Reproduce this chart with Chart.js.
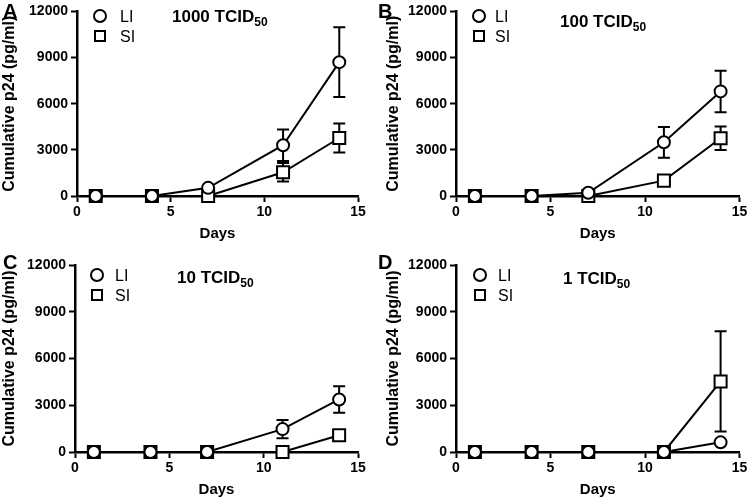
<!DOCTYPE html>
<html>
<head>
<meta charset="utf-8">
<script src="https://cdn.jsdelivr.net/npm/chart.js@4/dist/chart.umd.min.js"></script>
<style>
  html, body { margin: 0; padding: 0; background: #fff; }
  body { width: 750px; height: 502px; position: relative; overflow: hidden;
         font-family: "Liberation Sans", Arial, sans-serif; color: #000; }
  .panel { position: absolute; width: 375px; height: 251px; }
  .panel canvas { position: absolute; left: 0; top: 0; }
  .txt { position: absolute; font-weight: bold; line-height: 1; white-space: nowrap; }
  .letter { font-size: 20px; }
  .title { font-size: 17px; }
  .title sub { font-size: 12px; vertical-align: -4px; line-height: 1; }
  .leg { font-size: 16px; font-weight: normal; }
  .mk { position: absolute; box-sizing: border-box; border: 2px solid #000; background: #fff; }
  .mk.circle { width: 14px; height: 14px; border-radius: 50%; }
  .mk.square { width: 12px; height: 12px; }
</style>
</head>
<body>
<script>
  /* ─── DATA ─────────────────────────────────────────────── */
  const days = [1, 4, 7, 11, 14];
  const yTicks = [0, 3000, 6000, 9000, 12000];
  const xTicks = [0, 5, 10, 15];
  const seriesNames = ['LI', 'SI'];
  const panelLetters = ['A', 'B', 'C', 'D'];
  const doses = ['1000', '100', '10', '1'];

  const liA    = [0, 0, 530, 3300, 8700];
  const liAErr = [0, 0, 0, 1030, 2270];
  const siA    = [0, 0, 0, 1540, 3770];
  const siAErr = [0, 0, 0, 600, 950];

  const liB    = [0, 0, 210, 3490, 6800];
  const liBErr = [0, 0, 0, 1000, 1350];
  const siB    = [0, 0, 0, 1000, 3750];
  const siBErr = [0, 0, 0, 0, 760];

  const liC    = [0, 0, 0, 1470, 3370];
  const liCErr = [0, 0, 0, 580, 850];
  const siC    = [0, 0, 0, 0, 1070];
  const siCErr = [0, 0, 0, 0, 0];

  const liD    = [0, 0, 0, 0, 620];
  const liDErr = [0, 0, 0, 0, 0];
  const siD    = [0, 0, 0, 0, 4530];
  const siDErr = [0, 0, 0, 0, 3220];

  const liAll  = [liA, liB, liC, liD];
  const liErrs = [liAErr, liBErr, liCErr, liDErr];
  const siAll  = [siA, siB, siC, siD];
  const siErrs = [siAErr, siBErr, siCErr, siDErr];

  /* ─── LAYOUT (panel-relative pixels) ───────────────────── */
  const layouts = [
    { x: 0,   y: 0,   left: 77, right: 358, top: 7,  bottom: 196, yTitlePad: 0, xTitlePad: 8,
      titleX: 172, titleTop: 8,  legX: 100, legY: [16, 36], legTextX: 120 },
    { x: 375, y: 0,   left: 81, right: 366, top: 7,  bottom: 196, yTitlePad: 9, xTitlePad: 8,
      titleX: 185, titleTop: 13, legX: 104, legY: [16, 36], legTextX: 120 },
    { x: 0,   y: 251, left: 75, right: 358, top: 14, bottom: 201, yTitlePad: 0, xTitlePad: 3,
      titleX: 177, titleTop: 18, legX: 97,  legY: [24, 44], legTextX: 115 },
    { x: 375, y: 251, left: 81, right: 366, top: 14, bottom: 201, yTitlePad: 9, xTitlePad: 3,
      titleX: 188, titleTop: 19, legX: 105, legY: [24, 44], legTextX: 123 }
  ];

  const W = 375, H = 251;
  const FONT = "'Liberation Sans', Arial, sans-serif";

  /* ─── ERROR BARS ───────────────────────────────────────── */
  const errorBars = {
    id: 'errorBars',
    beforeDatasetsDraw(chart) {
      const { ctx, scales: { x, y } } = chart;
      ctx.save();
      ctx.strokeStyle = '#000';
      ctx.lineWidth = 2;
      chart.data.datasets.forEach(ds => {
        ds.data.forEach((pt, i) => {
          const e = ds.errors[i];
          if (!e) return;
          const px = x.getPixelForValue(pt.x);
          const top = y.getPixelForValue(pt.y + e);
          const bot = y.getPixelForValue(Math.max(0, pt.y - e));
          ctx.beginPath();
          ctx.moveTo(px, top); ctx.lineTo(px, bot);
          ctx.moveTo(px - 6, top); ctx.lineTo(px + 6, top);
          ctx.moveTo(px - 6, bot); ctx.lineTo(px + 6, bot);
          ctx.stroke();
        });
      });
      ctx.restore();
    }
  };

  function makeSet(label, values, errors, style, radius) {
    return {
      label,
      data: days.map((d, i) => ({ x: d, y: values[i] })),
      errors,
      borderColor: '#000',
      backgroundColor: '#fff',
      borderWidth: 2,
      pointStyle: style,
      pointRadius: radius,
      pointBorderWidth: 2,
      pointBackgroundColor: '#fff',
      pointBorderColor: '#000',
      clip: false,
      tension: 0
    };
  }

  function addText(parent, cls, html, left, top) {
    const el = document.createElement('div');
    el.className = 'txt ' + cls;
    el.innerHTML = html;
    el.style.left = left + 'px';
    el.style.top = top + 'px';
    parent.appendChild(el);
  }

  function addMarker(parent, shape, cx, cy) {
    const el = document.createElement('div');
    const s = shape === 'circle' ? 14 : 12;
    el.className = 'mk ' + shape;
    el.style.left = (cx - s / 2) + 'px';
    el.style.top = (cy - s / 2) + 'px';
    parent.appendChild(el);
  }

  layouts.forEach((L, p) => {
    const panel = document.createElement('div');
    panel.className = 'panel';
    panel.style.left = L.x + 'px';
    panel.style.top = L.y + 'px';
    document.body.appendChild(panel);

    const canvas = document.createElement('canvas');
    canvas.width = W; canvas.height = H;
    canvas.style.width = W + 'px'; canvas.style.height = H + 'px';
    panel.appendChild(canvas);

    // overlays: panel letter, dose title, legend
    addText(panel, 'letter', panelLetters[p], 3, 1);
    addText(panel, 'title', doses[p] + ' TCID<sub>50</sub>', L.titleX, L.titleTop);
    addMarker(panel, 'circle', L.legX, L.legY[0]);
    addMarker(panel, 'square', L.legX, L.legY[1]);
    addText(panel, 'leg', seriesNames[0], L.legTextX, L.legY[0] - 7.5);
    addText(panel, 'leg', seriesNames[1], L.legTextX, L.legY[1] - 7.5);

    new Chart(canvas, {
      type: 'line',
      data: {
        datasets: [
          makeSet(seriesNames[0], liAll[p], liErrs[p], 'circle', 6),
          makeSet(seriesNames[1], siAll[p], siErrs[p], 'rect', 8.5)
        ]
      },
      options: {
        responsive: false,
        animation: false,
        devicePixelRatio: 1,
        layout: { padding: { left: 0, right: W - L.right, top: L.top, bottom: 0 } },
        plugins: { legend: { display: false }, tooltip: { enabled: false } },
        scales: {
          x: {
            type: 'linear', min: 0, max: 15,
            afterBuildTicks: s => { s.ticks = xTicks.map(v => ({ value: v })); },
            afterFit: s => { s.height = H - L.bottom; },
            grid: { drawOnChartArea: false, drawTicks: true, tickLength: 6, tickWidth: 2, tickColor: '#000' },
            border: { display: true, color: '#000', width: 2.5 },
            ticks: { color: '#000', padding: 2, maxRotation: 0,
                     font: { family: FONT, size: 14, weight: 'bold' },
                     callback: v => String(v) },
            title: { display: true, text: 'Days', color: '#000',
                     font: { family: FONT, size: 15, weight: 'bold' },
                     padding: { top: 0, bottom: L.xTitlePad } }
          },
          y: {
            type: 'linear', min: 0, max: 12000,
            afterBuildTicks: s => { s.ticks = yTicks.map(v => ({ value: v })); },
            afterFit: s => { s.width = L.left; },
            grid: { drawOnChartArea: false, drawTicks: true, tickLength: 6, tickWidth: 2, tickColor: '#000' },
            border: { display: true, color: '#000', width: 2.5 },
            ticks: { color: '#000', padding: 3,
                     font: { family: FONT, size: 14, weight: 'bold' },
                     callback: v => String(v) },
            title: { display: true, text: 'Cumulative p24 (pg/ml)', color: '#000',
                     font: { family: FONT, size: 16, weight: 'bold' },
                     padding: { top: L.yTitlePad, bottom: 0 } }
          }
        }
      },
      plugins: [errorBars]
    });
  });
</script>
</body>
</html>
